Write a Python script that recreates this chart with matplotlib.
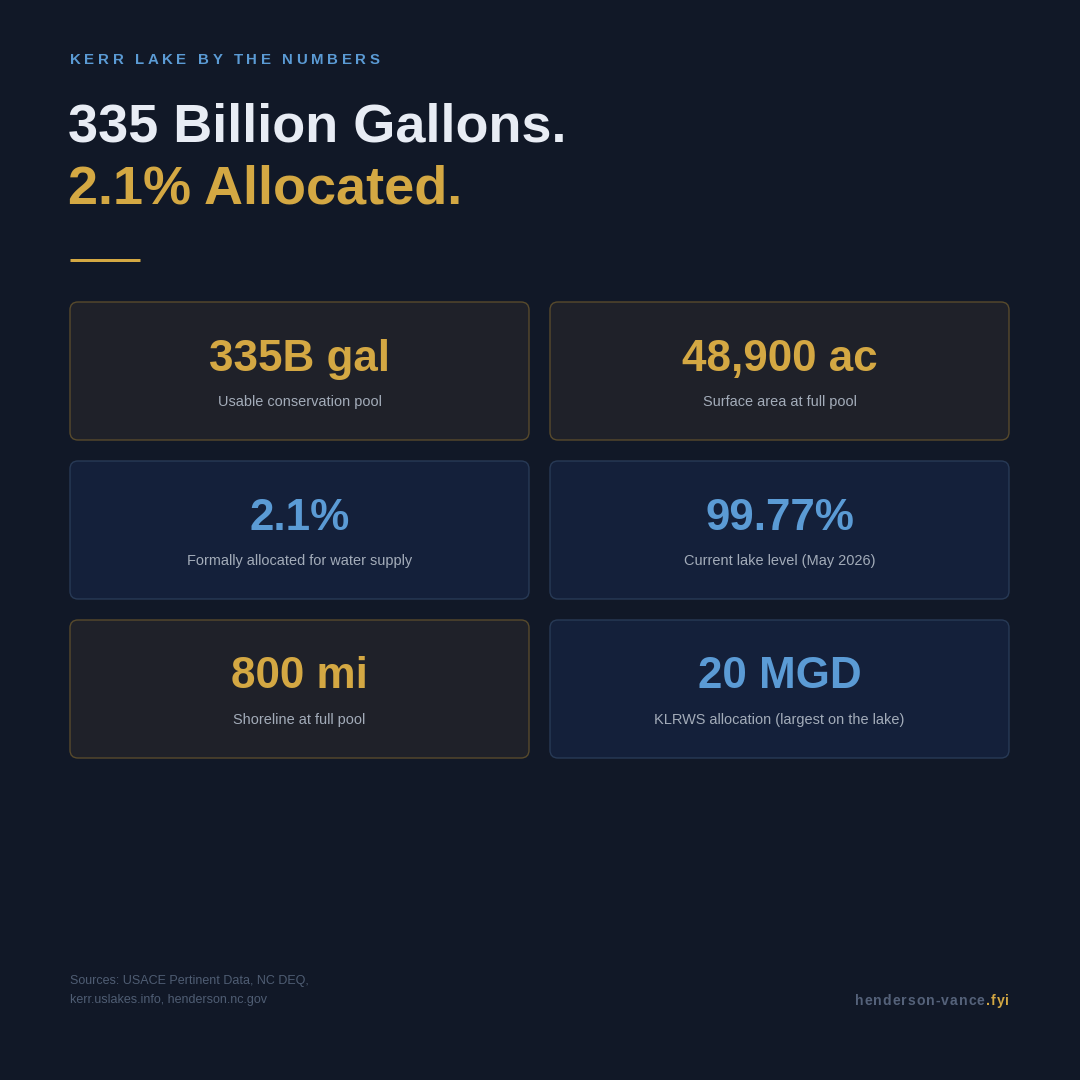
import matplotlib
matplotlib.use("Agg")
import matplotlib.pyplot as plt
from matplotlib.patches import FancyBboxPatch

BG = "#111827"
GOLD = "#d4a843"
BLUE = "#5b9bd5"

values = ["335B gal", "48,900 ac", "2.1%", "99.77%", "800 mi", "20 MGD"]
labels = ["Usable conservation pool", "Surface area at full pool",
          "Formally allocated for water supply", "Current lake level (May 2026)",
          "Shoreline at full pool", "KLRWS allocation (largest on the lake)"]
themes = ["gold", "gold", "blue", "blue", "gold", "blue"]
kicker = "KERR LAKE BY THE NUMBERS"
title1 = "335 Billion Gallons."
title2 = "2.1% Allocated."
sources = ["Sources: USACE Pertinent Data, NC DEQ,", "kerr.uslakes.info, henderson.nc.gov"]
brand = ["henderson-vance", ".fyi"]

PX = 72 / 100  # points per pixel at dpi 100
FAM = ["Liberation Sans", "DejaVu Sans"]

fig = plt.figure(figsize=(10.8, 10.8), dpi=100, facecolor=BG)
ax = fig.add_axes([0, 0, 1, 1])
ax.set_xlim(0, 1080)
ax.set_ylim(1080, 0)
ax.axis("off")
renderer = fig.canvas.get_renderer()


def spaced(x, y, s, spacing, **kw):
    # draw letter-spaced text glyph by glyph, returns end x (data px)
    for ch in s:
        t = ax.text(x, y, ch if ch != " " else "\u00a0", va="center", ha="left", **kw)
        w = t.get_window_extent(renderer).width
        if ch == " ":
            w = kw["fontsize"] / PX * 0.28
        x += w + spacing
    return x - spacing


spaced(70, 60, kicker, 3.6, color=BLUE, fontsize=15 * PX, family=FAM, weight="bold")

ax.text(68, 128, title1, color="#e8ecf4", fontsize=54 * PX, family=FAM,
        weight="bold", va="center")
ax.text(68, 190, title2, color=GOLD, fontsize=54 * PX, family=FAM,
        weight="bold", va="center")
ax.plot([70, 140], [260, 260], color=GOLD, lw=3 * PX, solid_capstyle="butt")

styles = {"gold": ("#1f2129", "#584a2c", GOLD), "blue": ("#14203a", "#283a56", BLUE)}
for i, (v, lab, th) in enumerate(zip(values, labels, themes)):
    col, row = i % 2, i // 2
    x0 = 70 + col * 480
    y0 = 302 + row * 159
    fc, ec, tc = styles[th]
    ax.add_patch(FancyBboxPatch((x0, y0), 459, 138, boxstyle="round,pad=0,rounding_size=8",
                                fc=fc, ec=ec, lw=1))
    ax.text(x0 + 229.5, y0 + 57, v, color=tc, fontsize=44 * PX, family=FAM,
            weight="bold", ha="center", va="center")
    ax.text(x0 + 229.5, y0 + 100, lab, color="#a3acb9", fontsize=14.5 * PX,
            family=FAM, ha="center", va="center")

for k, s in enumerate(sources):
    ax.text(70, 981 + k * 19, s, color="#4f5d73", fontsize=12.5 * PX, family=FAM,
            va="center")

# brand: measure first, then place so it ends at x=1009
kw = dict(fontsize=14 * PX, family=FAM, weight="bold")
probe = spaced(0, -100, brand[0] + brand[1], 1.0, color=BG, **kw)
xs = 1009 - probe
xe = spaced(xs, 1001, brand[0], 1.0, color="#55627a", **kw)
spaced(xe + 1.0, 1001, brand[1], 1.0, color=GOLD, **kw)

fig.savefig("out.png", dpi=100, facecolor=BG)
